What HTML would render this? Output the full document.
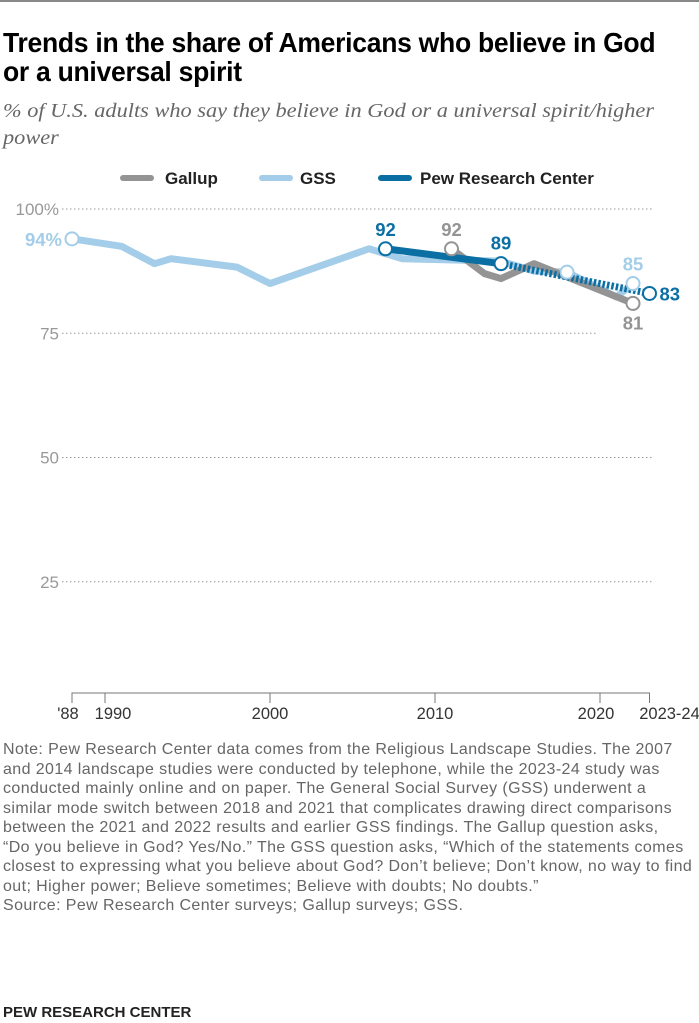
<!DOCTYPE html>
<html><head><meta charset="utf-8"><style>
body{margin:0;width:699px;height:1023px;background:#fff;position:relative;overflow:hidden;font-family:"Liberation Sans",sans-serif}
.t{position:absolute;left:3px;top:28px;font-size:27.5px;font-weight:bold;line-height:29px;color:#000;transform:scaleX(0.965);transform-origin:0 0;width:760px;letter-spacing:-0.3px}
.s{position:absolute;left:3px;top:98px;font-family:"Liberation Serif",serif;font-style:italic;font-size:20.5px;line-height:27px;color:#666;width:660px;white-space:nowrap;transform:scaleX(1.09);transform-origin:0 0}
.n{position:absolute;left:3px;top:740px;font-size:16px;line-height:19.5px;color:#666;width:696px;letter-spacing:0.4px;white-space:nowrap}
.f{position:absolute;left:3px;top:1004px;font-size:15px;font-weight:bold;color:#222}
</style></head><body>
<div style="position:absolute;left:0;top:0;width:699px;height:2px;background:#888"></div>
<div class="t">Trends in the share of Americans who believe in God<br>or a universal spirit</div>
<div class="s">% of U.S. adults who say they believe in God or a universal spirit/higher<br>power</div>
<svg id="c" width="699" height="740" style="position:absolute;left:0;top:0"></svg>
<div class="n">Note: Pew Research Center data comes from the Religious Landscape Studies. The 2007<br>and 2014 landscape studies were conducted by telephone, while the 2023-24 study was<br>conducted mainly online and on paper. The General Social Survey (GSS) underwent a<br>similar mode switch between 2018 and 2021 that complicates drawing direct comparisons<br>between the 2021 and 2022 results and earlier GSS findings. The Gallup question asks,<br>“Do you believe in God? Yes/No.” The GSS question asks, “Which of the statements comes<br>closest to expressing what you believe about God? Don’t believe; Don’t know, no way to find<br>out; Higher power; Believe sometimes; Believe with doubts; No doubts.”<br>Source: Pew Research Center surveys; Gallup surveys; GSS.</div>
<div class="f">PEW RESEARCH CENTER</div>
<script>
const gssYears=[1988,1991,1993,1994,1998,2000,2006,2008,2014,2016,2018,2021,2022];
const gssVals=[94,92.5,89,90,88.3,85,92,90,89.5,87.5,87.3,82.3,85];
const gallupYears=[2011,2013,2014,2016,2022];
const gallupVals=[92,87,86,89,81];
const pewYears=[2007,2014,2023];
const pewVals=[92,89,83];
const yTicks=[100,75,50,25];
const xTicks=[1988,1990,2000,2010,2020,2023];
const xTickLabels=["'88","1990","2000","2010","2020","2023-24"];
const NS="http://www.w3.org/2000/svg",svg=document.getElementById('c');
const X=y=>72+(y-1988)*16.5, Y=v=>706-v*4.97;
function el(t,a,p){const e=document.createElementNS(NS,t);for(const k in a)e.setAttribute(k,a[k]);(p||svg).appendChild(e);return e;}
function tx(x,y,s,fill,size,anchor,bold){const e=el('text',{x:x,y:y,fill:fill,'font-size':size,'text-anchor':anchor||'middle','font-weight':bold?'bold':'normal','font-family':'Liberation Sans, sans-serif'});e.textContent=s;return e;}
// legend
[[165,123,'#949494','Gallup'],[300,262,'#a3cde8','GSS'],[420,381,'#0b6fa4','Pew Research Center']].forEach(([x,sx,c,l])=>{
 const g=el('g',{});
 
 
 el('line',{x1:sx,y1:178,x2:sx+28,y2:178,stroke:c,'stroke-width':6,'stroke-linecap':'round'},g);
 g.appendChild(tx(x,184,l,'#222',17,'start',true));
});
// grid
yTicks.forEach(v=>{
 const l=el('line',{x1:62,x2:v==75?597:652,y1:Y(v),y2:Y(v),stroke:'#999','stroke-dasharray':'1.5 2.5','stroke-width':1});
 
 
 const t=tx(59,Y(v)+6,v==100?'100%':String(v),'#999',17,'end');
 
 
});
// x axis
const ax=el('path',{d:`M${X(1988)} 699 V693 H${X(2023)} V699`,stroke:'#777',fill:'none','stroke-width':1});


xTicks.forEach((y,i)=>{
 el('line',{x1:X(y),x2:X(y),y1:693,y2:703,stroke:'#777'});
 let xx=X(y); if(i==0)xx-=4; if(i==1)xx+=8; if(i==5)xx+=20; if(i==4)xx-=4;
 const t=tx(xx,719,xTickLabels[i],'#333',16.5);
 
 
});
function pts(ys,vs){return ys.map((y,i)=>X(y)+','+Y(vs[i])).join(' ');}
const gl=el('polyline',{points:pts(gssYears,gssVals),fill:'none',stroke:'#a3cde8','stroke-width':7,'stroke-linejoin':'round'});


const gal=el('polyline',{points:pts(gallupYears,gallupVals),fill:'none',stroke:'#949494','stroke-width':7,'stroke-linejoin':'round'});


const p1=el('polyline',{points:pts(pewYears.slice(0,2),pewVals.slice(0,2)),fill:'none',stroke:'#0b6fa4','stroke-width':7});


const p2=el('polyline',{points:pts(pewYears.slice(1),pewVals.slice(1)),fill:'none',stroke:'#0b6fa4','stroke-width':7,'stroke-dasharray':'2.5 2'});


function dot(y,v,c,n){const d=el('circle',{cx:X(y),cy:Y(v),r:6.5,fill:'#fff',stroke:c,'stroke-width':2});}
dot(gssYears[0],gssVals[0],'#a3cde8','gss-point-1988');
dot(gssYears[10],gssVals[10],'#a3cde8','gss-point-2018');
dot(gssYears[12],gssVals[12],'#a3cde8','gss-point-2022');
dot(gallupYears[0],gallupVals[0],'#949494','gallup-point-2011');
dot(gallupYears[4],gallupVals[4],'#949494','gallup-point-2022');
pewYears.forEach((y,i)=>dot(y,pewVals[i],'#0b6fa4','pew-point-'+y));
function lab(x,y,s,c,n,a){const t=tx(x,y,s,c,18.5,a||'middle',true);}
lab(X(1988)-10,Y(gssVals[0])+7,gssVals[0]+'%','#a3cde8','gss-label-1988','end');
lab(X(gssYears[12]),Y(gssVals[12])-13,String(gssVals[12]),'#a3cde8','gss-label-2022');
lab(X(gallupYears[0]),Y(gallupVals[0])-13,String(gallupVals[0]),'#949494','gallup-label-2011');
lab(X(gallupYears[4]),Y(gallupVals[4])+26,String(gallupVals[4]),'#949494','gallup-label-2022');
lab(X(pewYears[0]),Y(pewVals[0])-13,String(pewVals[0]),'#0b6fa4','pew-label-2007');
lab(X(pewYears[1]),Y(pewVals[1])-14,String(pewVals[1]),'#0b6fa4','pew-label-2014');
lab(X(pewYears[2])+10,Y(pewVals[2])+7,String(pewVals[2]),'#0b6fa4','pew-label-2023','start');
</script>
</body></html>
